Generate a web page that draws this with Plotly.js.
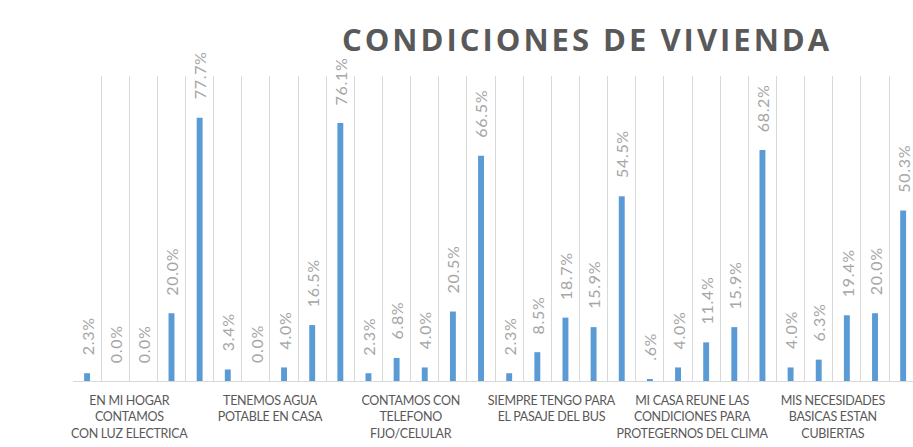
<!DOCTYPE html>
<html>
<head>
<meta charset="utf-8">
<script src="https://cdn.plot.ly/plotly-3.0.1.min.js"></script>
<style>
  html, body { margin: 0; padding: 0; background: #ffffff; }
  #chart { width: 913px; height: 447px; }
  .gtitle { letter-spacing: 3px; }
  .annotation-text { letter-spacing: 0.7px; }
  .xtick text { letter-spacing: -0.3px; }
</style>
</head>
<body>
<div id="chart"></div>
<script>
// Categories (x-axis labels)
const categories = [
  "EN MI HOGAR<br>CONTAMOS<br>CON LUZ ELECTRICA",
  "TENEMOS AGUA<br>POTABLE EN CASA",
  "CONTAMOS CON<br>TELEFONO<br>FIJO/CELULAR",
  "SIEMPRE TENGO PARA<br>EL PASAJE DEL BUS",
  "MI CASA REUNE LAS<br>CONDICIONES PARA<br>PROTEGERNOS DEL CLIMA",
  "MIS NECESIDADES<br>BASICAS ESTAN<br>CUBIERTAS"
];

// Five response levels per category (percent)
const level1 = [2.3, 3.4, 2.3, 2.3, 0.6, 4.0];
const level2 = [0.0, 0.0, 6.8, 8.5, 4.0, 6.3];
const level3 = [0.0, 4.0, 4.0, 18.7, 11.4, 19.4];
const level4 = [20.0, 16.5, 20.5, 15.9, 15.9, 20.0];
const level5 = [77.7, 76.1, 66.5, 54.5, 68.2, 50.3];

const levels = [level1, level2, level3, level4, level5];

function fmt(v) {
  let s = v.toFixed(1);
  if (v > 0 && v < 1) s = s.replace(/^0/, "");
  return s + "%";
}

const xs = [], ys = [], texts = [];
categories.forEach((c, i) => {
  levels.forEach((lv, j) => {
    xs.push(i * levels.length + j);
    ys.push(lv[i]);
    texts.push(fmt(lv[i]));
  });
});

const tickVals = categories.map((c, i) => i * levels.length + 1.5);

const trace = {
  type: "bar",
  x: xs,
  y: ys,
  width: 0.21,
  marker: { color: "#5B9BD5" },
  hoverinfo: "none"
};

const annotations = xs.map((x, k) => ({
  x: x,
  y: ys[k],
  xref: "x",
  yref: "y",
  text: texts[k],
  showarrow: false,
  textangle: -90,
  xanchor: "center",
  yanchor: "bottom",
  yshift: 16,
  font: { family: "Lato, 'Open Sans', sans-serif", size: 16, color: "#a6a6a6" }
}));

const layout = {
  width: 913,
  height: 447,
  paper_bgcolor: "#ffffff",
  plot_bgcolor: "#ffffff",
  margin: { l: 73, r: 0, t: 76, b: 66 },
  showlegend: false,
  title: {
    text: "<b>CONDICIONES DE VIVIENDA</b>",
    x: 0.643,
    xanchor: "center",
    xref: "container",
    y: 0.91,
    yanchor: "middle",
    yref: "container",
    font: { family: "'Open Sans', sans-serif", size: 31, color: "#595959" }
  },
  xaxis: {
    range: [-0.5, 29.35],
    tickmode: "array",
    tickvals: tickVals,
    ticktext: categories,
    tickangle: 0,
    automargin: false,
    showgrid: true,
    gridcolor: "#d9d9d9",
    gridwidth: 1,
    minor: { tickmode: "linear", tick0: -0.5, dtick: 1, showgrid: true, gridcolor: "#d9d9d9", gridwidth: 1, ticks: "" },
    ticks: "outside",
    ticklen: 8,
    tickcolor: "rgba(0,0,0,0)",
    showline: true,
    linecolor: "#d9d9d9",
    linewidth: 1,
    zeroline: false,
    tickfont: { family: "Lato, 'Open Sans', sans-serif", size: 12.5, color: "#595959" },
    fixedrange: true
  },
  yaxis: {
    range: [0, 90],
    visible: false,
    showgrid: false,
    zeroline: false,
    fixedrange: true
  },
  annotations: annotations
};

Plotly.newPlot("chart", [trace], layout, { displayModeBar: false, staticPlot: true });
</script>
</body>
</html>
